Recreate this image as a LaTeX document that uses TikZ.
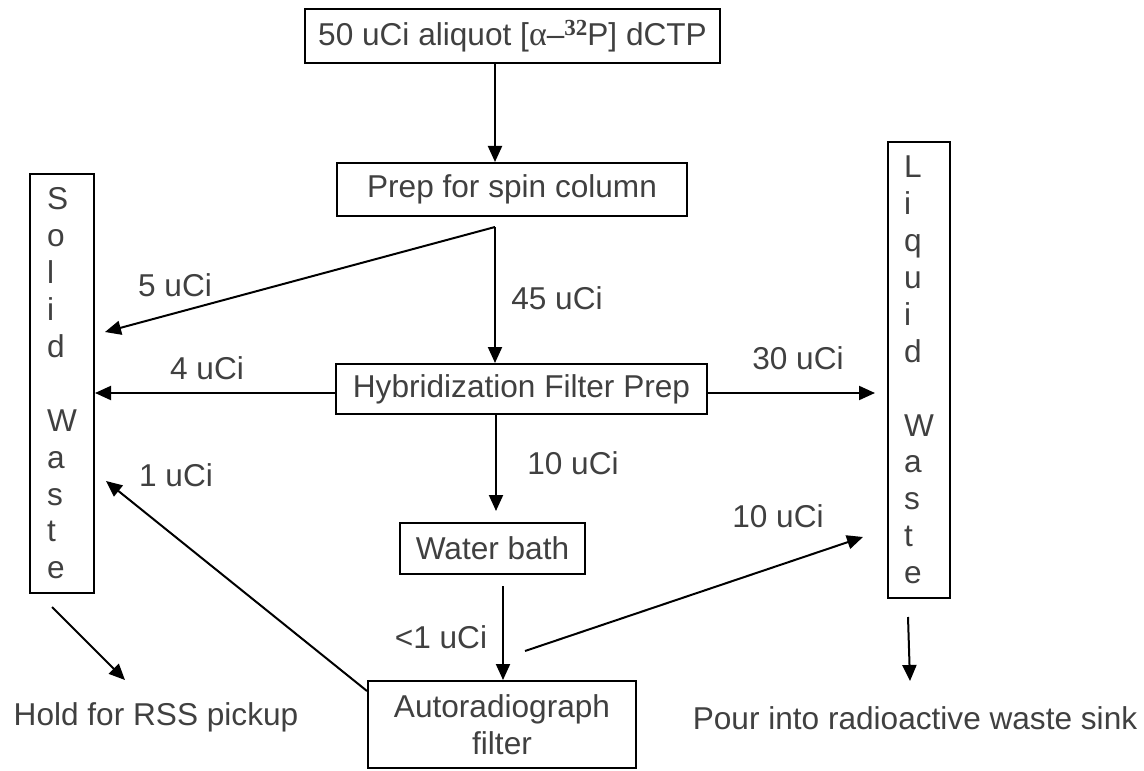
\documentclass[tikz,border=0pt]{standalone}
\usepackage{fontspec}
\setmainfont{Liberation Sans}
\newfontfamily\greekfont{Liberation Serif}
\usetikzlibrary{arrows.meta}
\definecolor{txtgray}{HTML}{404040}
\tikzstyle{stepbox}=[draw,rectangle,line width=1pt,inner sep=0pt,text=txtgray]
\tikzstyle{wastebox}=[draw,rectangle,line width=1pt,inner sep=0pt,align=left,text=txtgray]
\tikzstyle{amount}=[inner sep=0pt,text=txtgray]
\tikzstyle{flow}=[line width=1pt,-{Triangle[length=8pt,width=7pt]}]

\begin{document}
\begin{tikzpicture}[x=0.5pt,y=-0.5pt,font=\fontsize{15.8}{18.45}\selectfont]
    \useasboundingbox (0,0) rectangle (1144,770);
    \node[stepbox,minimum width=207.5pt,minimum height=27pt] (aliquot) at (512.5,36) {50 uCi aliquot [{\greekfont\fontsize{17}{18}\selectfont α}–\raisebox{5pt}{\greekfont\bfseries\fontsize{11.5}{12}\selectfont 32}P] dCTP};
    \node[stepbox,minimum width=175pt,minimum height=26.5pt] (spin) at (512,189.5) {Prep for spin column};
    \node[stepbox,minimum width=185.5pt,minimum height=25pt] (hyb) at (521.5,389) {Hybridization Filter Prep};
    \node[stepbox,minimum width=92.5pt,minimum height=25.5pt] (bath) at (492.5,548.5) {Water bath};
    \node[stepbox,minimum width=134pt,minimum height=43.5pt,align=center] (autorad) at (502,724.5) {Autoradiograph\\filter};
    \node[wastebox,minimum width=32pt,minimum height=209.5pt] (solid) at (62,383.5) {S\\o\\l\\i\\d\\[18.45pt]W\\a\\s\\t\\e};
    \node[wastebox,minimum width=31pt,minimum height=228pt] (liquid) at (919,370) {L\\i\\q\\u\\i\\d\\[18.45pt]W\\a\\s\\t\\e};

    \node[amount] (a5) at (175,285) {5 uCi};
    \node[amount] (a45) at (557,298) {45 uCi};
    \node[amount] (a4) at (207,368) {4 uCi};
    \node[amount] (a30) at (798,358) {30 uCi};
    \node[amount] (a10) at (573,463) {10 uCi};
    \node[amount] (a1) at (176,475) {1 uCi};
    \node[amount] (a10b) at (778,516) {10 uCi};
    \node[amount] (alt1) at (441,637) {<1 uCi};
    \node[amount] (hold) at (156,717) {Hold for RSS pickup};
    \node[amount] (pour) at (915,718) {Pour into radioactive waste sink};

    \coordinate (fork) at (495,227);
    \coordinate (tip5) at (105,332);
    \coordinate (tip30) at (875,393);
    \coordinate (radout) at ([yshift=-5.5pt]autorad.north west);
    \coordinate (tip1) at (106,481);
    \coordinate (from10) at (525,651);
    \coordinate (tip10) at (863,537);
    \coordinate (solidout) at (52,607);
    \coordinate (holdtop) at (125,680);
    \coordinate (liquidout) at (908,617);
    \coordinate (pourtop) at (910,681);

    \draw[flow] ([xshift=-8.75pt]aliquot.south) -- ([xshift=-8.5pt]spin.north);
    \draw[flow] (fork) -- (fork |- hyb.north);
    \draw[flow] ([yshift=-2pt]hyb.west) -- ([yshift=-2pt]hyb.west -| solid.east);
    \draw[flow] ([yshift=-2pt]hyb.east) -- (tip30);
    \draw[flow] ([xshift=-12.75pt]hyb.south) -- ([xshift=1.75pt,yshift=5.5pt]bath.north);
    \draw[flow] ([xshift=5.25pt,yshift=-5.5pt]bath.south) -- ([xshift=0.5pt]autorad.north);

    \foreach \from/\to in {fork/tip5,radout/tip1,from10/tip10,solidout/holdtop,liquidout/pourtop}
    \draw[flow] (\from) -- (\to);
\end{tikzpicture}
\end{document}
